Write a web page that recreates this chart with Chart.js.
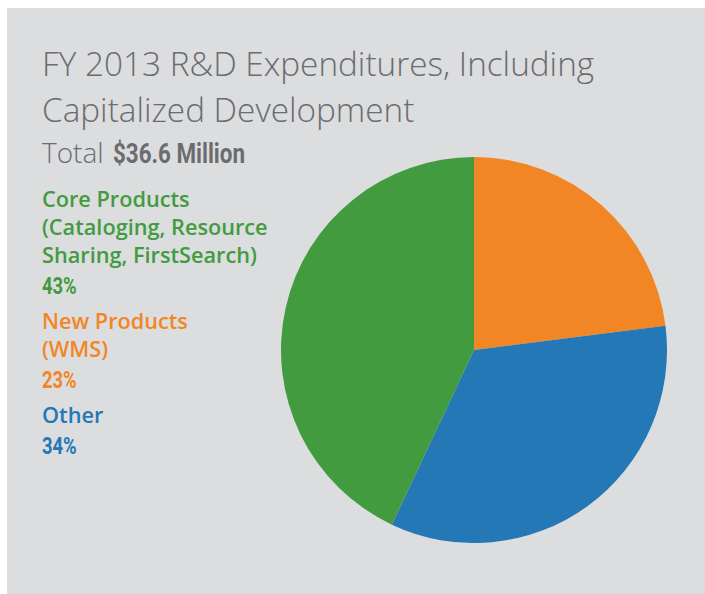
<!DOCTYPE html>
<html>
<head>
<meta charset="utf-8">
<script src="https://cdn.jsdelivr.net/npm/chart.js@4"></script>
<style>
    html, body { margin: 0; padding: 0; background: #fff; }
    body { width: 705px; height: 594px; position: relative; overflow: hidden; }
    .panel { position: absolute; left: 7px; top: 8px; width: 698px; height: 586px; background: #dcdddf; }
    .title {
        position: absolute; left: 42px; top: 40px;
        font-family: "Open Sans", sans-serif; font-weight: 300;
        font-size: 33.3px; line-height: 46px; color: #6b6c6f; white-space: nowrap;
    }
    .total {
        position: absolute; left: 42px; top: 132px;
        font-family: "Open Sans", sans-serif; font-weight: 300;
        font-size: 28px; line-height: 40px; color: #6b6c6f; white-space: nowrap;
    }
    .cond {
        display: inline-block; transform-origin: 0 0;
        font-family: Roboto, sans-serif; font-weight: 700;
    }
    .total .cond { font-size: 28px; margin-left: 9px; transform: scaleX(0.8); }
    #legend { position: absolute; left: 42px; top: 184.6px; }
    .item { margin-bottom: 4px; }
    .item .line {
        font-family: "Open Sans", sans-serif; font-weight: 600;
        font-size: 21.7px; line-height: 28px; white-space: nowrap;
    }
    .item .pct { line-height: 35px; height: 34px; }
    .item .pct .cond { font-size: 23px; transform: scaleX(0.8); }
    #wrap { position: absolute; left: 281px; top: 157px; width: 386px; height: 386px; }
</style>
</head>
<body>
<div class="panel"></div>
<div class="title">FY 2013 R&amp;D Expenditures, Including<br>Capitalized Development</div>
<div class="total">Total<span class="cond">$36.6 Million</span></div>
<div id="legend"></div>
<div id="wrap"><canvas id="pieChart" width="386" height="386"></canvas></div>

<script>
// Slices clockwise from 12 o'clock
const categories = [
    ['New Products', '(WMS)'],
    ['Other'],
    ['Core Products', '(Cataloging, Resource', 'Sharing, FirstSearch)']
];
const shares = [23, 34, 43];
const sliceColors = ['#f38624', '#2378b5', '#429b3f'];

// Legend is listed top to bottom in this order
const legendOrder = [2, 0, 1];

// Build legend text
const legend = document.getElementById('legend');
legend.innerHTML = legendOrder.map(i => {
    const lines = categories[i].map(t => `<div class="line">${t}</div>`).join('');
    return `<div class="item" style="color:${sliceColors[i]}">${lines}<div class="pct"><span class="cond">${shares[i]}%</span></div></div>`;
}).join('');

// Pie chart
const ctx = document.getElementById('pieChart').getContext('2d');
new Chart(ctx, {
    type: 'pie',
    data: {
        labels: categories,
        datasets: [{
            data: shares,
            backgroundColor: sliceColors,
            borderWidth: 0
        }]
    },
    options: {
        responsive: false,
        animation: false,
        layout: { padding: 0 },
        plugins: {
            legend: { display: false },
            tooltip: { enabled: false }
        }
    }
});
</script>
</body>
</html>
